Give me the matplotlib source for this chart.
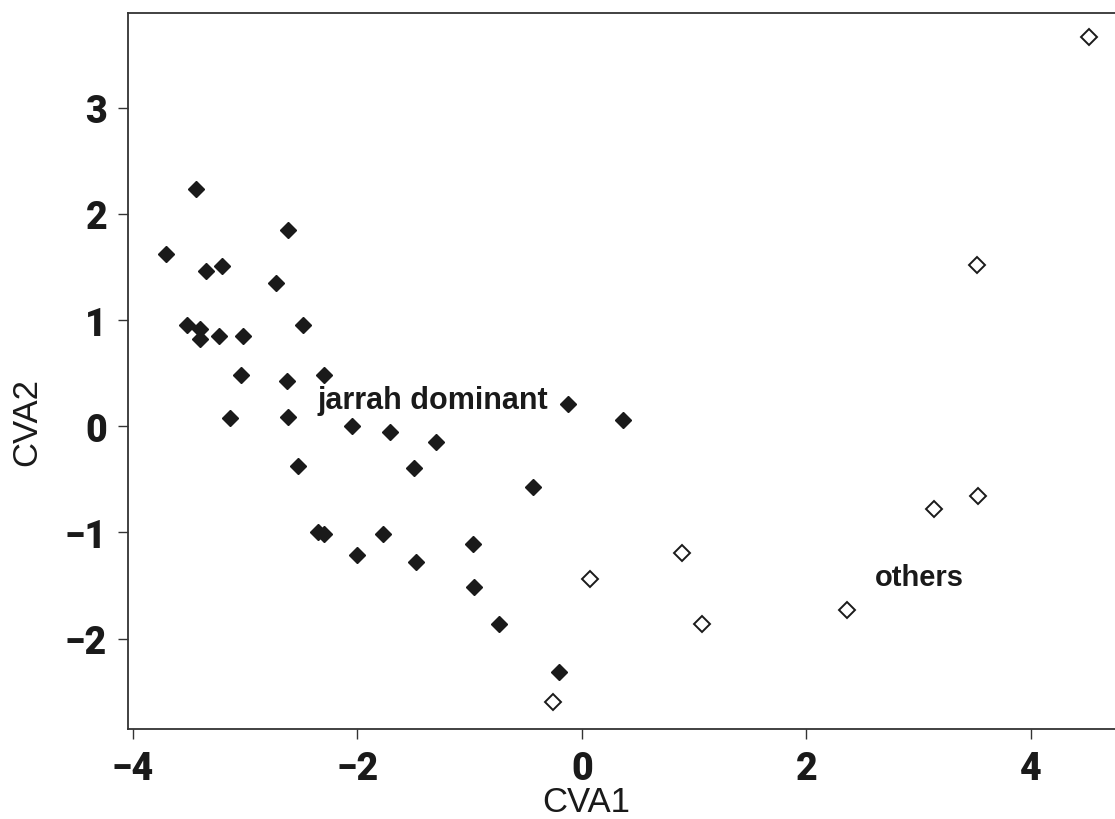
import numpy as np
import matplotlib
matplotlib.use("Agg")
import matplotlib.pyplot as plt

# jarrah dominant sites (filled diamonds)
jarrah_x = [-3.44, -3.71, -2.62, -3.35, -3.21, -2.73, -3.52, -3.40, -3.40,
            -3.23, -3.02, -2.49, -3.04, -2.63, -2.30, -3.14, -2.62, -2.05,
            -1.71, -1.30, -2.53, -1.50, -0.44, -2.35, -2.30, -1.77, -0.97,
            -2.00, -1.48, -0.96, -0.74, -0.12, 0.37, -0.20]
jarrah_y = [2.23, 1.62, 1.85, 1.46, 1.51, 1.35, 0.95, 0.92, 0.82,
            0.85, 0.85, 0.95, 0.48, 0.43, 0.48, 0.08, 0.09, 0.00,
            -0.05, -0.15, -0.37, -0.39, -0.57, -1.00, -1.01, -1.01, -1.11,
            -1.21, -1.28, -1.51, -1.86, 0.21, 0.06, -2.31]

# other sites (open diamonds)
other_x = [-0.26, 0.07, 0.89, 1.07, 2.36, 3.14, 3.53, 3.52, 4.52]
other_y = [-2.60, -1.44, -1.19, -1.86, -1.73, -0.78, -0.66, 1.52, 3.66]

xticks = [-4, -2, 0, 2, 4]
yticks = [-2, -1, 0, 1, 2, 3]

plt.rcParams['axes.unicode_minus'] = True

fig = plt.figure(figsize=(11.15, 8.2), dpi=100)
ax = fig.add_axes([0.1148, 0.1098, 0.8852, 0.8731])

ax.plot(jarrah_x, jarrah_y, linestyle='none', marker='D', markersize=8,
        color='#1a1a1a')
ax.plot(other_x, other_y, linestyle='none', marker='D', markersize=8,
        markerfacecolor='white', markeredgecolor='#1a1a1a', markeredgewidth=1.4)

ax.text(-2.36, 0.25, 'jarrah dominant', fontsize=22, fontweight='bold',
        family=['Liberation Sans', 'DejaVu Sans'], color='#1a1a1a',
        va='center', ha='left')
ax.text(2.61, -1.42, 'others', fontsize=21, fontweight='bold',
        family=['Liberation Sans', 'DejaVu Sans'], color='#1a1a1a',
        va='center', ha='left')

ax.set_xlim(-4.045, 4.75)
ax.set_ylim(-2.85, 3.89)
ax.set_xticks(xticks)
ax.set_yticks(yticks)
ax.set_xticklabels([str(t).replace('-', '\u2212') for t in xticks])
ax.set_yticklabels([str(t).replace('-', '\u2212') for t in yticks])
for lab in ax.get_xticklabels() + ax.get_yticklabels():
    lab.set_family(['Roboto', 'DejaVu Sans'])
    lab.set_fontweight('black')
    lab.set_fontsize(27)
    lab.set_color('#1a1a1a')
ax.tick_params(direction='out', length=7, width=1, color='#333333', pad=8)

for side in ['left', 'bottom', 'top']:
    ax.spines[side].set_linewidth(1.3)
    ax.spines[side].set_color('#333333')
ax.spines['right'].set_visible(False)

ax.set_xlabel('CVA1', fontsize=25, family=['Liberation Sans', 'DejaVu Sans'],
              color='#1a1a1a')
ax.set_ylabel('CVA2', fontsize=25, family=['Liberation Sans', 'DejaVu Sans'],
              color='#1a1a1a')
ax.xaxis.set_label_coords(0.464, -0.078)
ax.yaxis.set_label_coords(-0.086, 0.43)

fig.savefig('out.png', dpi=100)
